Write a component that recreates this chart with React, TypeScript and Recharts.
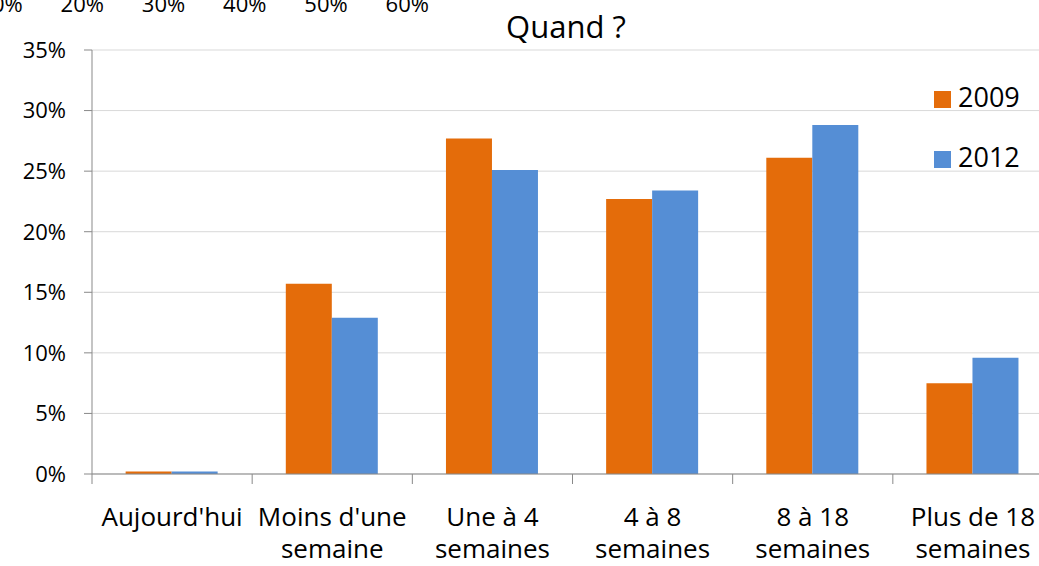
import { Bar, BarChart, CartesianGrid, XAxis, YAxis } from "recharts";

const CATEGORIES = [
  "Aujourd'hui",
  "Moins d'une\nsemaine",
  "Une à 4\nsemaines",
  "4 à 8\nsemaines",
  "8 à 18\nsemaines",
  "Plus de 18\nsemaines",
];
const VALUES_2009 = [0.2, 15.7, 27.7, 22.7, 26.1, 7.5];
const VALUES_2012 = [0.2, 12.9, 25.1, 23.4, 28.8, 9.6];
const SERIES = [
  { key: "y2009", name: "2009", color: "#E46C0A", values: VALUES_2009 },
  { key: "y2012", name: "2012", color: "#558ED5", values: VALUES_2012 },
];
const Y_TICKS = [0, 5, 10, 15, 20, 25, 30, 35];
// labels of another chart's axis, cut off at the top of the picture
const STRAY_TICKS = ["10%", "20%", "30%", "40%", "50%", "60%"];
const TITLE = "Quand ?";

const FONT = "'Open Sans', sans-serif";
const CHART_W = 1100;
const CHART_H = 566;
const Y_W = 92;
const MARGIN = { top: 50, right: 47, bottom: 0, left: 0 };
const PLOT_W = CHART_W - Y_W - MARGIN.right;
const AXIS = "#898989";

const data = CATEGORIES.map((c, i) => {
  const row: Record<string, string | number> = { name: c };
  SERIES.forEach((s) => (row[s.key] = s.values[i]));
  return row;
});

function CategoryTick(props: any) {
  const { x, y, payload, index } = props;
  const half = PLOT_W / CATEGORIES.length / 2;
  const lines = String(payload.value).split("\n");
  return (
    <g>
      <line x1={x - half} x2={x - half} y1={y} y2={y + 10} stroke={AXIS} />
      {index === CATEGORIES.length - 1 && (
        <line x1={x + half} x2={x + half} y1={y} y2={y + 10} stroke={AXIS} />
      )}
      <text x={x} y={y + 52} textAnchor="middle" fontSize={26} fontFamily={FONT} fill="#000">
        {lines.map((l, i) => (
          <tspan key={i} x={x} dy={i === 0 ? 0 : 32}>
            {l}
          </tspan>
        ))}
      </text>
    </g>
  );
}

export default function App() {
  return (
    <div
      style={{
        position: "fixed",
        left: 0,
        top: 0,
        width: 1039,
        height: 566,
        overflow: "hidden",
        background: "#fff",
        fontFamily: FONT,
      }}
    >
      <BarChart
        width={CHART_W}
        height={CHART_H}
        data={data}
        margin={MARGIN}
        barCategoryGap="21%"
        barGap={0}
      >
        <CartesianGrid vertical={false} stroke="#d9d9d9" />
        <XAxis
          dataKey="name"
          interval={0}
          height={92}
          tickSize={0}
          tickMargin={0}
          tickLine={false}
          axisLine={{ stroke: AXIS }}
          tick={<CategoryTick />}
        />
        <YAxis
          width={Y_W}
          domain={[0, 35]}
          ticks={Y_TICKS}
          interval={0}
          tickFormatter={(v: number) => `${v}%`}
          tickSize={8}
          tickMargin={18}
          tickLine={{ stroke: AXIS }}
          axisLine={{ stroke: AXIS }}
          tick={{ fontSize: 22, fill: "#000", fontFamily: FONT }}
        />
        {SERIES.map((s) => (
          <Bar key={s.key} dataKey={s.key} name={s.name} fill={s.color} isAnimationActive={false} />
        ))}
      </BarChart>
      <svg
        width={1039}
        height={566}
        style={{ position: "absolute", left: 0, top: 0, pointerEvents: "none" }}
      >
        {STRAY_TICKS.map((t, i) => (
          <text key={t} x={1 + i * 81.25} y={12} textAnchor="middle" fontSize={22} fontFamily={FONT} fill="#000">
            {t}
          </text>
        ))}
        <text x={566} y={38} textAnchor="middle" fontSize={31} fontFamily={FONT} fill="#000">
          {TITLE}
        </text>
        {SERIES.map((s, i) => (
          <g key={s.key}>
            <rect x={934} y={91 + i * 60} width={17} height={17} fill={s.color} />
            <text x={958} y={107 + i * 60} fontSize={27} fontFamily={FONT} fill="#000">
              {s.name}
            </text>
          </g>
        ))}
      </svg>
    </div>
  );
}
